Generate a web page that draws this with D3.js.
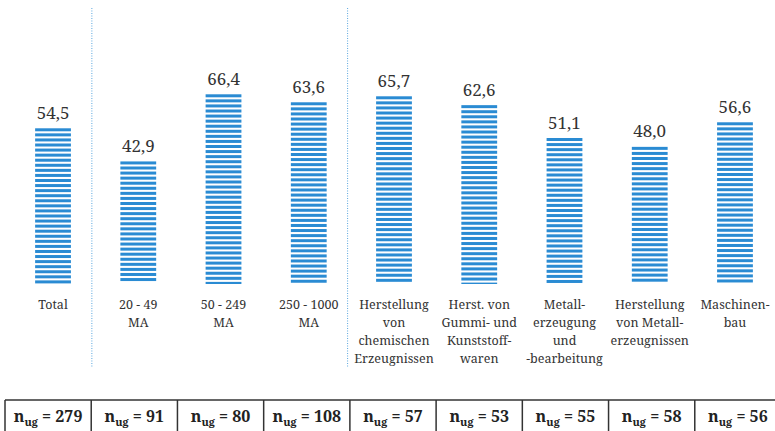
<!DOCTYPE html>
<html>
<head>
<meta charset="utf-8">
<script src="https://cdn.jsdelivr.net/npm/d3@7"></script>
<style>
  html, body { margin: 0; padding: 0; background: #fff; }
  #chart { width: 775px; height: 431px; overflow: hidden; }
</style>
</head>
<body>
<div id="chart"></div>
<script>
const categories = ["Total", "20-49", "50-249", "250-1000", "Chemie", "Gummi", "Metallerz", "Metallerzeugnisse", "Maschinenbau"];
const values = [54.5, 42.9, 66.4, 63.6, 65.7, 62.6, 51.1, 48.0, 56.6];
const labelLines = [
    ["Total"],
    ["20 - 49", "MA"],
    ["50 - 249", "MA"],
    ["250 - 1000", "MA"],
    ["Herstellung", "von", "chemischen", "Erzeugnissen"],
    ["Herst. von", "Gummi- und", "Kunststoff-", "waren"],
    ["Metall-", "erzeugung", "und", "-bearbeitung"],
    ["Herstellung", "von Metall-", "erzeugnissen"],
    ["Maschinen-", "bau"]
];
const sampleSizes = [279, 91, 80, 108, 57, 53, 55, 58, 56];
const groupStarts = ["20-49", "Chemie"];

const width = 775, height = 431;
const baseline = 284;
const serif = "\"Noto Serif\", \"DejaVu Serif\", serif";
const barBlue = "#2a8bd3";

const svg = d3.select("#chart").append("svg")
    .attr("width", width).attr("height", height)
    .attr("viewBox", `0 0 ${width} ${height}`);

const x = d3.scaleBand().domain(categories).range([10.4, 777.6])
    .paddingInner(0.58).paddingOuter(0.29);
const y = d3.scaleLinear().domain([0, 100]).range([baseline, baseline - 285.7]);

// group separators (dotted)
svg.selectAll("line.sep").data(groupStarts).join("line")
    .attr("class", "sep")
    .attr("x1", d => x(d) - 28.5).attr("x2", d => x(d) - 28.5)
    .attr("y1", 8).attr("y2", 368)
    .attr("stroke", "#5aa6de").attr("stroke-width", 1)
    .attr("stroke-dasharray", "1,1.5");

// striped bars
const bars = svg.selectAll("g.bar").data(categories.map((c, i) => ({ c, v: values[i] }))).join("g")
    .attr("class", "bar");

bars.each(function (d) {
    const top = y(d.v);
    const stripes = d3.range(top, baseline - 1, 5.07);
    d3.select(this).selectAll("rect").data(stripes).join("rect")
        .attr("x", x(d.c)).attr("width", x.bandwidth())
        .attr("y", s => s).attr("height", s => Math.min(3, baseline - s))
        .attr("fill", barBlue);
});

bars.append("text")
    .attr("x", d => x(d.c) + x.bandwidth() / 2)
    .attr("y", d => y(d.v) - 9.5)
    .attr("text-anchor", "middle")
    .style("font-family", serif).style("font-size", "17px").style("fill", "#333")
    .text(d => d3.format(".1f")(d.v).replace(".", ","));

// category labels
const labels = svg.selectAll("text.cat").data(categories).join("text")
    .attr("class", "cat")
    .attr("text-anchor", "middle")
    .style("font-family", serif).style("font-size", "12.5px").style("fill", "#333");

labels.each(function (d, i) {
    d3.select(this).selectAll("tspan").data(labelLines[i]).join("tspan")
        .attr("x", x(d) + x.bandwidth() / 2)
        .attr("y", (_, j) => 309 + j * 18)
        .text(s => s);
});

// sample size table
const t = d3.scaleBand().domain(categories).range([5, 781]);
const tableTop = 400;

svg.append("line")
    .attr("x1", t.range()[0]).attr("x2", t.range()[1])
    .attr("y1", tableTop).attr("y2", tableTop)
    .attr("stroke", "#333").attr("stroke-width", 1.5);

svg.selectAll("line.cell").data(categories).join("line")
    .attr("class", "cell")
    .attr("x1", d => t(d)).attr("x2", d => t(d))
    .attr("y1", tableTop).attr("y2", height)
    .attr("stroke", "#333").attr("stroke-width", 1.5);

const cells = svg.selectAll("text.n").data(categories).join("text")
    .attr("class", "n")
    .attr("x", d => t(d) + t.bandwidth() / 2)
    .attr("y", 422)
    .attr("text-anchor", "middle")
    .style("font-family", serif).style("font-size", "16px").style("font-weight", "bold").style("fill", "#222");

cells.each(function (d, i) {
    const el = d3.select(this);
    el.append("tspan").text("n");
    el.append("tspan").attr("dy", 4).style("font-size", "11px").text("ug");
    el.append("tspan").attr("dy", -4).text(" = " + sampleSizes[i]);
});
</script>
</body>
</html>
